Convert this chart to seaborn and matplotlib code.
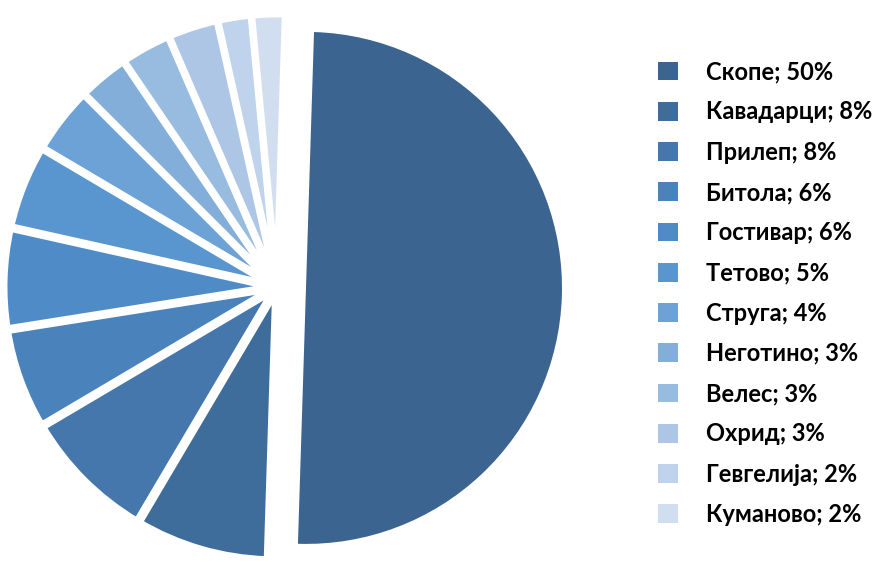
import matplotlib
matplotlib.use("Agg")
import matplotlib.pyplot as plt
import seaborn as sns

# Data
cities = ["Скопе", "Кавадарци", "Прилеп", "Битола", "Гостивар", "Тетово",
          "Струга", "Неготино", "Велес", "Охрид", "Гевгелија", "Куманово"]
shares = [50, 8, 8, 6, 6, 5, 4, 3, 3, 3, 2, 2]

colors = ["#3b6590", "#3f6d9b", "#4577ac", "#4a82bb", "#4f8bc6", "#5996d0",
          "#6ca2d6", "#82aed9", "#98bbe0", "#adc6e5", "#c0d3ec", "#d1def0"]

sns.set_theme(style="white")
plt.rcParams["font.family"] = ["Lato", "DejaVu Sans"]

fig = plt.figure(figsize=(8.84, 5.65), dpi=100)
ax = fig.add_axes([0, 0, 1, 1])
ax.set_xlim(0, 884)
ax.set_ylim(0, 565)
ax.axis("off")

# pie in pixel units: centre, radius and offsets
R = 268
explode = [29] + [5] * (len(shares) - 1)
wedges, _ = ax.pie(shares, colors=colors, startangle=88.2, counterclock=False,
                   radius=R, center=(277, 278), explode=explode,
                   wedgeprops=dict(edgecolor="white", linewidth=5))
wedges[0].set_radius(256)
wedges[0].set_linewidth(0)

labels = [f"{c}; {s}%" for c, s in zip(cities, shares)]
leg = ax.legend(wedges, labels, loc="upper left", bbox_to_anchor=(0.72, 0.931),
                bbox_transform=fig.transFigure, frameon=False,
                prop=dict(weight="bold", size=17), handlelength=0.85,
                handleheight=0.85, handletextpad=1.2, labelspacing=0.73)
for h in leg.legend_handles:
    h.set_linewidth(0)
for t in leg.get_texts():
    t.set_color("black")

ax.set_xlim(0, 884)
ax.set_ylim(0, 565)
fig.savefig("out.png", dpi=100)
